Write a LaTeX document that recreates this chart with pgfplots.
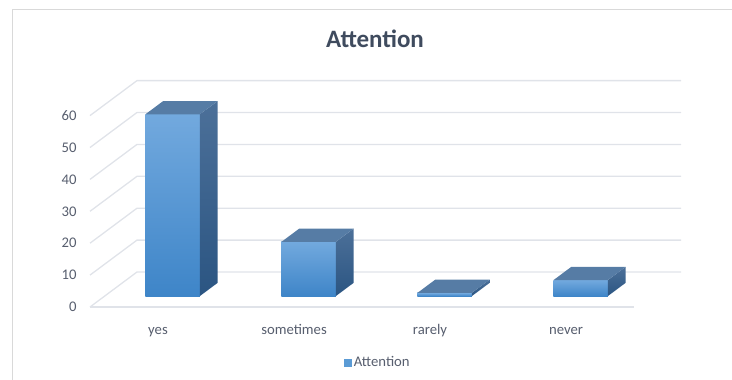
\documentclass[border=0pt]{standalone}
\usepackage{pgfplots}
\pgfplotsset{compat=1.18}
\usepackage{fontspec}
\setmainfont{Carlito}
\usetikzlibrary{calc}
\definecolor{gridc}{HTML}{E0E3E9}
\definecolor{framec}{HTML}{D9D9D9}
\definecolor{textc}{HTML}{575E6E}
\definecolor{titlec}{HTML}{3F4B5E}
\definecolor{ftop}{HTML}{72A9DE}
\definecolor{fbot}{HTML}{3E85C8}
\definecolor{stop}{HTML}{4C7099}
\definecolor{sbot}{HTML}{2B5582}
\definecolor{topc}{HTML}{567CA5}
\definecolor{legc}{HTML}{5B9BD5}
% #1 left x, #2 right x, #3 value
\newcommand{\cubebar}[3]{%
  \addplot3[forget plot, draw=none, top color=ftop, bottom color=fbot] coordinates {(#1,0.31,0) (#2,0.31,0) (#2,0.31,#3) (#1,0.31,#3)} -- cycle;
  \addplot3[forget plot, draw=none, top color=stop, bottom color=sbot] coordinates {(#2,0.31,0) (#2,0.69,0) (#2,0.69,#3) (#2,0.31,#3)} -- cycle;
  \addplot3[forget plot, draw=none, fill=topc] coordinates {(#1,0.31,#3) (#2,0.31,#3) (#2,0.69,#3) (#1,0.69,#3)} -- cycle;
}
\begin{document}
\begin{tikzpicture}
\begin{axis}[
  x={(136bp,0bp)}, y={(47bp,35bp)}, z={(0bp,3.19bp)},
  xmin=-0.5, xmax=3.5, ymin=0, ymax=1, zmin=0, zmax=60,
  axis line style={draw=none},
  xtick={0,1,2,3}, xticklabels={yes,sometimes,rarely,never},
  ytick=\empty,
  ztick={0,10,20,30,40,50,60},
  major tick length=0pt,
  tick label style={font=\fontsize{14.7bp}{17bp}\selectfont, text=textc},
  xticklabel style={anchor=base, yshift=-27bp, xshift=0bp},
  zticklabel style={anchor=east, xshift=-10bp},
  /pgf/number format/assume math mode=true,
  clip=false,
  legend style={draw=none, fill=none, at={(axis description cs:0.487,-0.245)}, anchor=center,
    font=\fontsize{14.7bp}{17bp}\selectfont, text=textc},
]
\pgfplotsinvokeforeach{0,10,20,30,40,50,60}{%
  \addplot3[forget plot, gridc, line width=1.3bp] coordinates {(-0.5,0,#1) (-0.5,1,#1) (3.5,1,#1)};
}
\addplot3[forget plot, gridc, line width=1.3bp] coordinates {(-0.5,0,0) (3.5,0,0)};
\cubebar{-0.2}{0.2}{57}
\cubebar{0.8}{1.2}{17}
\cubebar{1.8}{2.2}{1}
\cubebar{2.8}{3.2}{5}
\addlegendimage{legend image code/.code={\fill[legc] (0bp,-3.75bp) rectangle (7.5bp,3.75bp);}}
\addlegendentry{Attention}
\coordinate (O) at (axis cs:-0.5,0,0);
\end{axis}
\useasboundingbox ($(O)+(-90bp,-73bp)$) rectangle ($(O)+(642bp,307bp)$);
\draw[framec, line width=1bp] ($(O)+(-77bp,-120bp)$) rectangle ($(O)+(700bp,297bp)$);
\node[anchor=base, text=titlec, font=\fontsize{25bp}{30bp}\selectfont\bfseries] at ($(O)+(285bp,259.3bp)$) {Attention};
\end{tikzpicture}
\end{document}
